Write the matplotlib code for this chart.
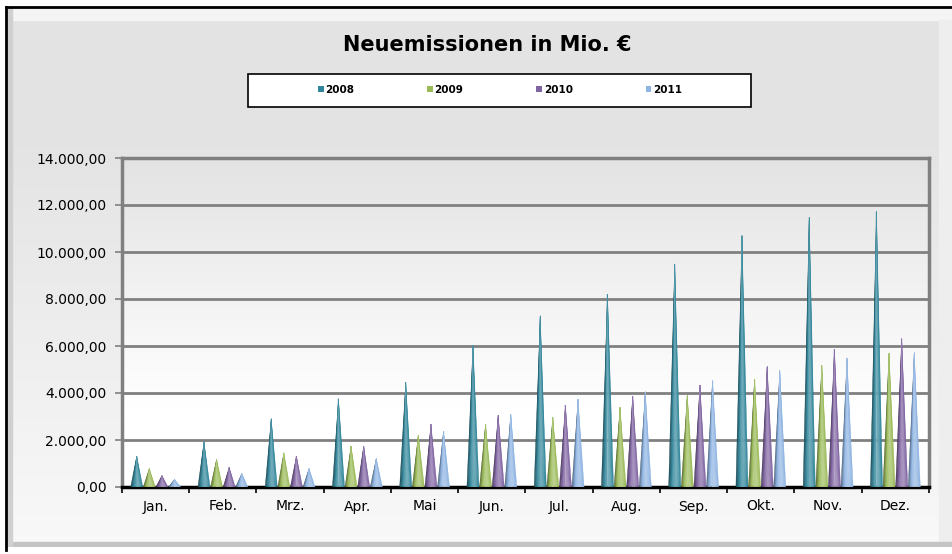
import numpy as np
import matplotlib
matplotlib.use("Agg")
import matplotlib.pyplot as plt
from matplotlib.patches import Rectangle, Patch
from matplotlib.colors import to_rgb
from matplotlib.ticker import FuncFormatter, MultipleLocator

months = ["Jan.", "Feb.", "Mrz.", "Apr.", "Mai", "Jun.",
          "Jul.", "Aug.", "Sep.", "Okt.", "Nov.", "Dez."]
years = ["2008", "2009", "2010", "2011"]

v2008 = [1310, 1920, 2900, 3750, 4460, 6040, 7280, 8210, 9490, 10690, 11480, 11720]
v2009 = [780, 1170, 1450, 1740, 2200, 2670, 2960, 3390, 3910, 4580, 5190, 5690]
v2010 = [480, 830, 1310, 1740, 2670, 3060, 3480, 3870, 4340, 5120, 5860, 6310]
v2011 = [320, 570, 780, 1210, 2370, 3100, 3730, 4050, 4520, 4950, 5470, 5710]

series = [v2008, v2009, v2010, v2011]
colors = ["#31869b", "#9bbb59", "#8064a2", "#8eb4e3"]


def de_fmt(v, pos=None):
    s = f"{v:,.2f}"
    return s.replace(",", "X").replace(".", ",").replace("X", ".")


def shade(c, s):
    c = np.array(to_rgb(c))
    if s < 0:
        return tuple(c * (1 + s))
    return tuple(c + (1 - c) * s)


W, H = 953, 554
fig = plt.figure(figsize=(W / 100, H / 100), dpi=100)
fig.patch.set_facecolor("white")

# chart area background
bg = fig.add_axes([7 / W, 1 - 547 / H, (953 - 7) / W, (547 - 8) / H])
bg.set_axis_off()
grad = np.concatenate([np.full(140, 0.894), np.linspace(0.894, 0.975, 400)])
bg.imshow(grad[:, None, None] * np.ones((1, 1, 3)), aspect="auto",
          extent=[0, 1, 0, 1], transform=bg.transAxes)
bg.set_xlim(0, 1)
bg.set_ylim(0, 1)
bg.add_patch(Rectangle((0, 1 - 12 / 539), 1, 12 / 539, color="#f4f4f4",
                       transform=bg.transAxes))
bg.add_patch(Rectangle((1 - 14 / 946, 0), 14 / 946, 1 - 12 / 539, color="#eeeeee",
                       transform=bg.transAxes))
bg.add_patch(Rectangle((0, 0), 1, 5 / 539, color="#c4c4c4", transform=bg.transAxes))
bg.add_patch(Rectangle((0, 0), 5 / 946, 1, color="#d0d0d0", transform=bg.transAxes))
fig.add_artist(plt.Line2D([6 / W, 1], [1 - 7 / H, 1 - 7 / H], color="black", lw=2))
fig.add_artist(plt.Line2D([6 / W, 6 / W], [1 - 7 / H, 1 - 550 / H], color="black", lw=2))

fig.text(487 / W, 1 - 45 / H, "Neuemissionen in Mio. €", ha="center", va="center",
         fontsize=15, fontweight="bold")

# legend
fig.add_artist(Rectangle((248 / W, 1 - 107 / H), 503 / W, 33 / H, facecolor="white",
                         edgecolor="black", lw=1.2, transform=fig.transFigure))
handles = [Patch(facecolor=c, edgecolor="none") for c in colors]
fig.legend(handles, years, loc="center", bbox_to_anchor=(500 / W, 1 - 90 / H),
           ncol=4, frameon=False, handlelength=0.55, handleheight=0.55,
           handletextpad=0.15, columnspacing=7.0,
           prop={"size": 7.5, "weight": "bold"})

ax = fig.add_axes([122 / W, 1 - 487 / H, (929 - 122) / W, (487 - 158) / H])
ax.set_xlim(-0.5, 11.5)
ax.set_ylim(0, 14000)

ag = np.concatenate([np.linspace(0.89, 1.0, 250), np.ones(80)])
ax.imshow(ag[:, None, None] * np.ones((1, 1, 3)), aspect="auto",
          extent=[0, 1, 0, 1], transform=ax.transAxes, zorder=0)

ax.yaxis.set_major_locator(MultipleLocator(2000))
ax.yaxis.set_major_formatter(FuncFormatter(de_fmt))
ax.grid(axis="y", color="#808080", lw=2, zorder=1)
ax.set_axisbelow(True)

x = np.arange(len(months))
offsets = [-0.281, -0.094, 0.094, 0.281]
half = 0.09
nstrip = 12
for vals, off, col in zip(series, offsets, colors):
    for xi, v in zip(x, vals):
        cx = xi + off
        edges = np.linspace(cx - half, cx + half, nstrip + 1)
        for k in range(nstrip):
            t = (k + 0.5) / nstrip
            s = 0.55 * np.cos(np.pi * (t - 0.62)) - 0.27
            fc = shade(col, s)
            ax.fill([edges[k], edges[k + 1], cx], [0, 0, v], color=fc,
                    lw=0.3, ec=fc, zorder=3)

ax.set_xticks(x)
ax.set_xticklabels(months)
ax.set_xticks(np.arange(-0.5, 12, 1), minor=True)
ax.tick_params(axis="x", which="major", length=0, pad=9, labelsize=10)
ax.tick_params(axis="x", which="minor", length=4, width=1.2, color="black", direction="out")
ax.tick_params(axis="y", length=5, width=1.2, color="#808080", pad=6, labelsize=10)

for side in ["left", "right", "top"]:
    ax.spines[side].set_color("#808080")
    ax.spines[side].set_linewidth(2.5)
ax.spines["bottom"].set_color("black")
ax.spines["bottom"].set_linewidth(2.5)

fig.savefig("out.png", dpi=100)
